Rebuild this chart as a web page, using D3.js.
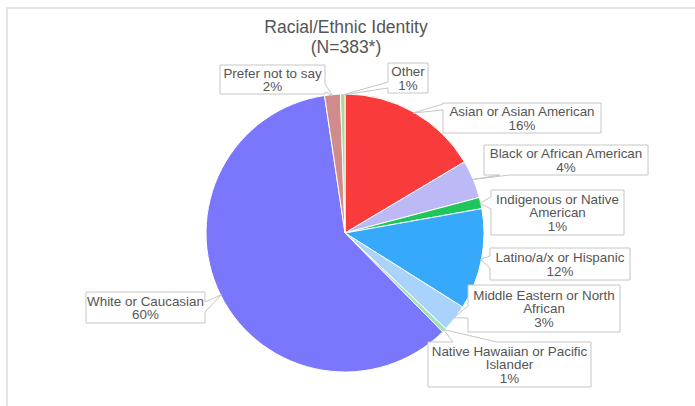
<!DOCTYPE html>
<html>
<head>
<meta charset="utf-8">
<script src="https://cdn.jsdelivr.net/npm/d3@7"></script>
<style>
  body { margin: 0; background: #fff; }
  text { font-family: "Liberation Sans", Arial, Helvetica, sans-serif; fill: #555; }
</style>
</head>
<body>
<svg id="chart" width="695" height="406"></svg>
<script>
// data, clockwise from 12 o'clock
var categories = ["Asian or Asian American", "Black or African American", "Indigenous or Native American",
  "Latino/a/x or Hispanic", "Middle Eastern or North African", "Native Hawaiian or Pacific Islander",
  "White or Caucasian", "Prefer not to say", "Other"];
var counts = [63, 17, 5, 45, 12, 2, 230, 7, 2];
var sliceColors = ["#f93b3b", "#bdb9f7", "#1fc75b", "#36a9fb", "#aad3fb", "#a6e2b6", "#7b77fd", "#d08c8c", "#b4d598"];
var chartTitle = "Racial/Ethnic Identity";

var width = 695, height = 406;
var cx = 345, cy = 233, radius = 139;
var fontSize = 13.4, lineH = 13.5;

// callout boxes: side = edge the pointer leaves from, pos = where on that edge, bw = pointer base width
var callouts = {
  "Asian or Asian American":             {x: 443, y: 103, w: 158, h: 30, side: "left", pos: 107, bw: 6, wrap: 99},
  "Black or African American":           {x: 484, y: 145, w: 164, h: 30, side: "bottom", pos: 505, bw: 10, wrap: 99},
  "Indigenous or Native American":       {x: 491, y: 190, w: 133, h: 45, side: "left", pos: 203, bw: 12, wrap: 3},
  "Latino/a/x or Hispanic":              {x: 490, y: 248, w: 140, h: 32, side: "left", pos: 262, bw: 12, wrap: 99},
  "Middle Eastern or North African":     {x: 468, y: 285, w: 152, h: 47, side: "left", pos: 312, bw: 12, wrap: 4},
  "Native Hawaiian or Pacific Islander": {x: 428, y: 342, w: 163, h: 45, side: "top", pos: 475, bw: 44, wrap: 4},
  "White or Caucasian":                  {x: 86, y: 292, w: 119, h: 31, side: "right", pos: 307, bw: 10, wrap: 99},
  "Prefer not to say":                   {x: 220, y: 65, w: 105, h: 29, side: "right", pos: 88, bw: 8, wrap: 99},
  "Other":                               {x: 388, y: 63, w: 40, h: 30, side: "left", pos: 85, bw: 6, wrap: 99}
};

var total = d3.sum(counts);
var fmtPct = d3.format(".0%");

var svg = d3.select("#chart");

// outer frame (only top and left edges show)
svg.append("path")
  .attr("d", "M7," + height + " L7,8 L" + width + ",8")
  .attr("fill", "none")
  .attr("stroke", "#dcdcdc")
  .attr("stroke-width", 1.5);

// title
var title = svg.append("text")
  .attr("text-anchor", "middle")
  .style("font-size", "17.5px");
title.append("tspan").attr("x", cx + 1).attr("y", 33).text(chartTitle);
title.append("tspan").attr("x", cx + 1).attr("y", 53).text("(N=" + total + "*)");

/* Pie */
var color = d3.scaleOrdinal().domain(categories).range(sliceColors);

var pie = d3.pie()
  .sort(null)
  .value(function(d, i) { return counts[i]; });

var arcs = pie(categories);

var arc = d3.arc().innerRadius(0).outerRadius(radius);
var edgeArc = d3.arc().innerRadius(radius - 1).outerRadius(radius - 1);

var g = svg.append("g").attr("transform", "translate(" + cx + "," + cy + ")");

g.selectAll("path.slice")
  .data(arcs).enter()
  .append("path")
  .attr("class", "slice")
  .attr("d", arc)
  .attr("fill", function(d) { return color(d.data); })
  .attr("stroke", "#fff")
  .attr("stroke-width", 1);

/* Callouts */
function calloutPath(b, tip) {
  var x0 = b.x, y0 = b.y, x1 = b.x + b.w, y1 = b.y + b.h, h = b.bw / 2;
  var t = tip[0] + "," + tip[1];
  if (b.side == "left")
    return "M" + x0 + "," + y0 + "L" + x1 + "," + y0 + "L" + x1 + "," + y1 + "L" + x0 + "," + y1 +
      "L" + x0 + "," + (b.pos + h) + "L" + t + "L" + x0 + "," + (b.pos - h) + "Z";
  if (b.side == "right")
    return "M" + x0 + "," + y0 + "L" + x1 + "," + y0 + "L" + x1 + "," + (b.pos - h) + "L" + t +
      "L" + x1 + "," + (b.pos + h) + "L" + x1 + "," + y1 + "L" + x0 + "," + y1 + "Z";
  if (b.side == "top")
    return "M" + x0 + "," + y0 + "L" + (b.pos - h) + "," + y0 + "L" + t + "L" + (b.pos + h) + "," + y0 +
      "L" + x1 + "," + y0 + "L" + x1 + "," + y1 + "L" + x0 + "," + y1 + "Z";
  // bottom
  return "M" + x0 + "," + y0 + "L" + x1 + "," + y0 + "L" + x1 + "," + y1 + "L" + (b.pos + h) + "," + y1 +
    "L" + t + "L" + (b.pos - h) + "," + y1 + "L" + x0 + "," + y1 + "Z";
}

var labels = svg.append("g").attr("class", "callouts");

arcs.forEach(function(d, i) {
  var name = d.data;
  var b = callouts[name];
  var c = edgeArc.centroid(d);
  var tip = [cx + c[0], cy + c[1]];

  labels.append("path")
    .attr("d", calloutPath(b, tip))
    .attr("fill", "#fff")
    .attr("stroke", "#c6c6c6")
    .attr("stroke-width", 1);

  var words = name.split(" ");
  var lines = [words.slice(0, b.wrap).join(" ")];
  if (words.length > b.wrap) lines.push(words.slice(b.wrap).join(" "));
  lines.push(fmtPct(counts[i] / total));

  var midY = b.y + b.h / 2;
  var first = midY - (lines.length - 1) * lineH / 2 + fontSize * 0.36;
  var t = labels.append("text")
    .attr("text-anchor", "middle")
    .style("font-size", fontSize + "px");
  lines.forEach(function(l, k) {
    t.append("tspan")
      .attr("x", b.x + b.w / 2)
      .attr("y", first + k * lineH)
      .text(l);
  });
});
</script>
</body>
</html>
